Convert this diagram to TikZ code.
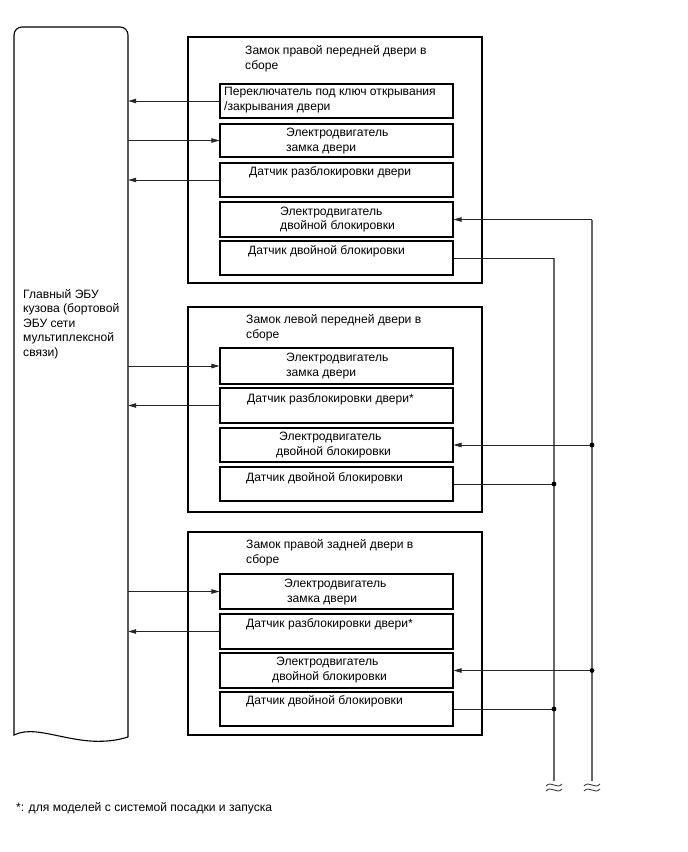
\documentclass[tikz,border=0pt]{standalone}
\usepackage{fontspec}
\setmainfont{Liberation Sans}
\usetikzlibrary{arrows.meta,calc,fit}
\begin{document}
\begin{tikzpicture}[x=1pt,y=-1pt,
  outerbox/.style={draw, line width=1.1pt, inner sep=0pt},
  inbox/.style={draw, line width=1.1pt, inner sep=0pt},
  ghost/.style={inner sep=0pt},
  lbl/.style={inner sep=0pt, anchor=west, align=left, font={\fontsize{12.1}{14.6}\selectfont}},
  wire/.style={line width=0.8pt, draw=black!85},
  bus/.style={line width=1.1pt, draw=black!60},
  arr/.style={wire, -{Triangle[length=8pt,width=4.5pt]}},
  wavy/.style={line width=0.9pt, draw=black!75},
  eculine/.style={line width=1.1pt}
]
\useasboundingbox (0,0) rectangle (688,852);

% ECU
\node[ghost, fit={(14,27) (128,737)}] (ecu) {};
\draw[eculine] (128,737) [rounded corners=8pt] -- (128,27) -- (14,27) [sharp corners] -- (14,735)
  .. controls (40,722) and (80,752) .. (128,737);
\node[lbl] (ecutext) at (23,324) {Главный ЭБУ\\кузова (бортовой\\ЭБУ сети\\мультиплексной\\связи)};

% Box 1
\node[outerbox, fit={(188,37) (482,283)}] (o1) {};
\node[lbl] (t1) at (245,59) {Замок правой передней двери в\\сборе};
\node[inbox, fit={(220,84) (453,118)}] (a1) {};
\node[lbl] at (224,100) {Переключатель под ключ открывания\\/закрывания двери};
\node[inbox, fit={(220,124) (453,157)}] (b1) {};
\node[lbl] at (286,141) {Электродвигатель\\замка двери};
\node[inbox, fit={(220,163) (453,197)}] (c1) {};
\node[lbl] at (249,172) {Датчик разблокировки двери};
\node[inbox, fit={(220,202) (453,237)}] (d1) {};
\node[lbl] at (280,219.5) {Электродвигатель\\двойной блокировки};
\node[inbox, fit={(220,241) (453,275)}] (e1) {};
\node[lbl] at (248,251) {Датчик двойной блокировки};

% Box 2
\node[outerbox, fit={(188,307) (482,512)}] (o2) {};
\node[lbl] (t2) at (246,328) {Замок левой передней двери в\\сборе};
\node[inbox, fit={(220,348) (453,384)}] (b2) {};
\node[lbl] at (286,366) {Электродвигатель\\замка двери};
\node[inbox, fit={(220,388) (453,423)}] (c2) {};
\node[lbl] at (247,399) {Датчик разблокировки двери*};
\node[inbox, fit={(220,428) (453,462)}] (d2) {};
\node[lbl] at (276,445) {\hspace{3pt}Электродвигатель\\двойной блокировки};
\node[inbox, fit={(220,467) (453,501)}] (e2) {};
\node[lbl] at (246,478) {Датчик двойной блокировки};

% Box 3
\node[outerbox, fit={(188,532) (482,735)}] (o3) {};
\node[lbl] (t3) at (246,553) {Замок правой задней двери в\\сборе};
\node[inbox, fit={(220,574) (453,609)}] (b3) {};
\node[lbl] at (284,592) {Электродвигатель\\\hspace{3pt}замка двери};
\node[inbox, fit={(220,614) (453,649)}] (c3) {};
\node[lbl] at (246,624) {Датчик разблокировки двери*};
\node[inbox, fit={(220,653) (453,688)}] (d3) {};
\node[lbl] at (272,670) {\hspace{4pt}Электродвигатель\\двойной блокировки};
\node[inbox, fit={(220,692) (453,726)}] (e3) {};
\node[lbl] at (246,701) {Датчик двойной блокировки};

% Left connectors
\draw[arr] (a1.west) -- (a1.west -| ecu.east);
\draw[arr] (b1.west -| ecu.east) -- (b1.west);
\draw[arr] (c1.west) -- (c1.west -| ecu.east);
\draw[arr] (b2.west -| ecu.east) -- (b2.west);
\draw[arr] (c2.west) -- (c2.west -| ecu.east);
\draw[arr] (b3.west -| ecu.east) -- (b3.west);
\draw[arr] (c3.west) -- (c3.west -| ecu.east);

% Right bus lines
\coordinate (vA) at (592,781);
\coordinate (vB) at (554,781);
\draw[bus] (vA) -- (d1.east -| vA);
\draw[bus] (vB) -- (e1.east -| vB);
\draw[arr] (d1.east -| vA) -- (d1.east);
\draw[wire] (e1.east) -- (e1.east -| vB);
\draw[arr] (d2.east -| vA) -- (d2.east);
\draw[wire] (e2.east) -- (e2.east -| vB);
\draw[arr] (d3.east -| vA) -- (d3.east);
\draw[wire] (e3.east) -- (e3.east -| vB);
\fill (d2.east -| vA) circle (2.4pt);
\fill (e2.east -| vB) circle (2.4pt);
\fill (d3.east -| vA) circle (2.4pt);
\fill (e3.east -| vB) circle (2.4pt);

% break marks
\foreach \c in {vA,vB} {
  \foreach \dy in {4,9} {
    \draw[wavy] ($(\c)+(-8,\dy+1)$) .. controls ($(\c)+(-3,\dy-5)$) and ($(\c)+(3,\dy+5)$) .. ($(\c)+(8,\dy-1)$);
  }
}

% footnote
\node[lbl] (foot) at (16,808) {*: для моделей с системой посадки и запуска};
\end{tikzpicture}
\end{document}
